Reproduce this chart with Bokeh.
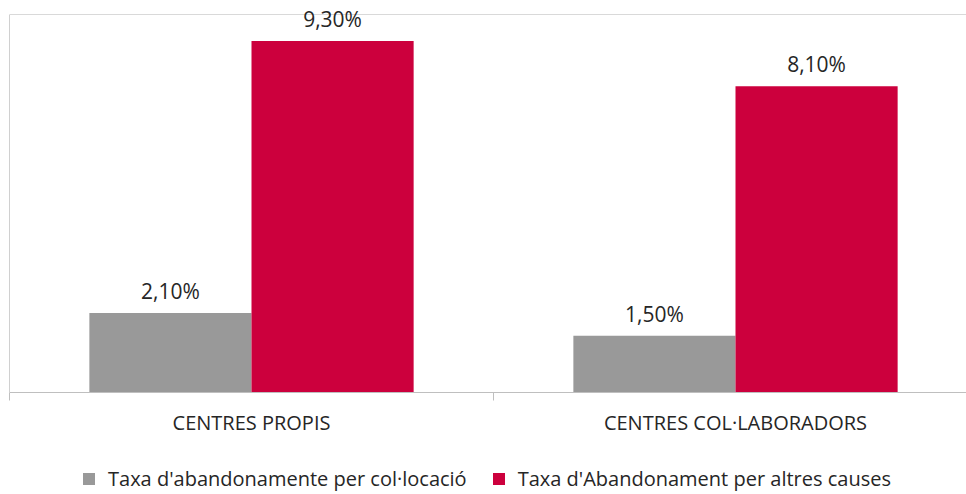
from bokeh.plotting import figure
from bokeh.layouts import column
from bokeh.models import (ColumnDataSource, Range1d, FixedTicker, Span, Legend, LegendItem, LabelSet)
from bokeh.transform import dodge
from bokeh.core.properties import value
from bokeh.embed import file_html
from bokeh.resources import INLINE

categories = ["CENTRES PROPIS", "CENTRES COL·LABORADORS"]
series_names = ["Taxa d'abandonamente per col·locació", "Taxa d'Abandonament per altres causes"]
colocacio = [2.10, 1.50]
altres = [9.30, 8.10]
colors = ["#999999", "#CC003D"]
y_max = 10

FONT = "Open Sans"
TXT = "#262626"

xs = [i + 0.5 for i in range(len(categories))]
def fmt(v):
    return f"{v:.2f}".replace(".", ",") + "%"

src = ColumnDataSource(dict(
    x=xs, a=colocacio, b=altres,
    la=[fmt(v) for v in colocacio], lb=[fmt(v) for v in altres],
))

px_per_unit = 378 / y_max
p = figure(frame_width=957, frame_height=392,
           x_range=Range1d(0, 957 / 484), y_range=Range1d(0, y_max + 14 / px_per_unit),
           output_backend="svg", toolbar_location=None,
           min_border_left=9, min_border_right=0, min_border_top=0, min_border_bottom=60)
p.outline_line_color = None
p.xgrid.visible = False
p.ygrid.visible = False

yax = p.yaxis[0]
yax.ticker = FixedTicker(ticks=[])
yax.bounds = (0, y_max)
yax.axis_line_color = "#d0d0d0"
yax.major_tick_line_color = None
yax.minor_tick_line_color = None
yax.major_tick_out = 0
yax.major_tick_in = 0
yax.minor_tick_out = 0
yax.minor_tick_in = 0
yax.major_label_standoff = 0
yax.major_label_text_font_size = "0px"

bw = 0.335
off = bw / 2
r1 = p.vbar(x=dodge("x", -off, range=p.x_range), top="a", width=bw, bottom=0,
            source=src, fill_color=colors[0], line_color=None)
r2 = p.vbar(x=dodge("x", off, range=p.x_range), top="b", width=bw, bottom=0,
            source=src, fill_color=colors[1], line_color=None)

p.add_layout(Span(location=y_max, dimension="width", line_color="#d9d9d9", line_width=1))

for col, lab, o in (("a", "la", -off), ("b", "lb", off)):
    p.add_layout(LabelSet(x=dodge("x", o, range=p.x_range), y=col, text=lab, source=src,
                          text_align="center", text_baseline="bottom", y_offset=8,
                          text_font=value(FONT), text_font_size=value("21px"),
                          text_color=value(TXT)))

ax = p.xaxis[0]
ax.ticker = FixedTicker(ticks=xs, minor_ticks=[0, 1, 2])
ax.major_label_overrides = {x: c for x, c in zip(xs, categories)}
ax.major_tick_line_color = None
ax.major_tick_out = 0
ax.major_tick_in = 0
ax.minor_tick_line_color = "#bfbfbf"
ax.minor_tick_out = 8
ax.minor_tick_in = 0
ax.axis_line_color = "#bfbfbf"
ax.major_label_standoff = 8
ax.major_label_text_font = FONT
ax.major_label_text_font_size = "20px"
ax.major_label_text_color = TXT

# legend strip below the chart
p2 = figure(width=966, height=42, x_range=Range1d(10, 11), y_range=Range1d(10, 11),
            output_backend="svg", toolbar_location=None,
            min_border_left=0, min_border_right=0, min_border_top=0, min_border_bottom=0)
p2.axis.visible = False
p2.grid.visible = False
p2.outline_line_color = None
l1 = p2.vbar(x="x", top="a", width=0.1, source=src, fill_color=colors[0], line_color=None)
l2 = p2.vbar(x="x", top="b", width=0.1, source=src, fill_color=colors[1], line_color=None)
legend = Legend(items=[LegendItem(label=series_names[0], renderers=[l1]),
                       LegendItem(label=series_names[1], renderers=[l2])],
                orientation="horizontal", location=(72, 2),
                border_line_color=None, background_fill_alpha=0,
                label_text_font=FONT, label_text_font_size="20px", label_text_color=TXT,
                glyph_width=15, glyph_height=15, spacing=24, padding=0, margin=0,
                label_standoff=12)
p2.add_layout(legend, "center")

open("out.html", "w").write(file_html(column(p, p2, spacing=0), INLINE))
